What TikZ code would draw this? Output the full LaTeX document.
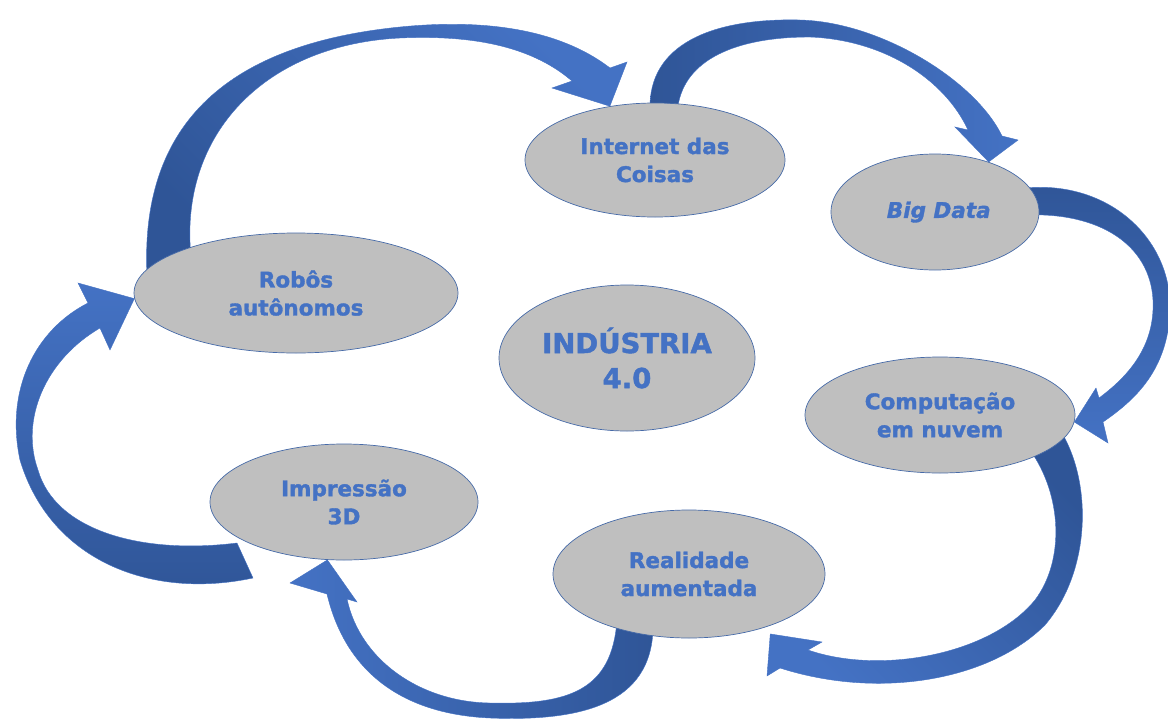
\documentclass[tikz,border=0pt]{standalone}
\usepackage{fontspec}
\setmainfont{DejaVu Sans}[BoldFeatures={FakeBold=1.6},BoldItalicFeatures={FakeBold=1.6}]
\usepackage{tikz}
\usetikzlibrary{calc}
\usetikzlibrary{shapes.geometric}
\usetikzlibrary{backgrounds}

\definecolor{txtblue}{RGB}{68,114,196}
\definecolor{arrdark}{RGB}{47,85,151}
\definecolor{arrlight}{RGB}{68,114,196}
\definecolor{ellgray}{RGB}{191,191,191}
\definecolor{ellline}{RGB}{70,106,168}

\begin{document}
\begin{tikzpicture} [x=1pt,y=-1pt,
     el/.style={ellipse, fill=ellgray, draw=ellline, line width=0.7pt, inner sep=0pt,
                align=center, text=txtblue, font=\bfseries\fontsize{21.5}{28}\selectfont},
     arr/.style={top color=arrlight, bottom color=arrdark, draw=arrlight, line width=0.4pt}
   ]
\useasboundingbox (0,0) rectangle (1168,718);

\node (iot)   [el, minimum width=260, minimum height=114] at (655,160) {Internet das\\Coisas};
\node (big)   [el, minimum width=208, minimum height=116] at (935,212) {\itshape ~Big Data};
\node (robo)  [el, minimum width=324, minimum height=120] at (296,293) {Robôs\\autônomos};
\node (ind)   [el, minimum width=256, minimum height=146, font=\bfseries\fontsize{27.5}{35}\selectfont]
              at (627,358) {INDÚSTRIA\\4.0};
\node (cloud) [el, minimum width=270, minimum height=116] at (940,415) {Computação\\em nuvem};
\node (print) [el, minimum width=268, minimum height=116] at (344,502) {Impressão\\3D};
\node (ar)    [el, minimum width=272, minimum height=128] at (689,574) {Realidade\\aumentada};

\begin{scope}[on background layer]
\shadedraw[arr, shading angle=-45]
  (147,275) .. controls (140,130) and (220,45) .. (400,27)
  .. controls (520,15) and (580,45) .. (610,68) -- (627,62) -- (iot.130)
  -- (552,88) -- (572,81) .. controls (530,45) and (470,35) .. (400,38)
  .. controls (260,45) and (175,140) .. (192,265) -- cycle;
\shadedraw[arr, shading angle=-90]
  (650,104) .. controls (652,40) and (720,18) .. (800,20)
  .. controls (880,22) and (975,80) .. (1002,136) -- (1018,140) -- (big.43)
  -- (955,127) -- (968,130) .. controls (945,80) and (885,40) .. (810,37)
  .. controls (735,37) and (685,60) .. (678,106) -- cycle;
\shadedraw[arr, shading angle=180]
  (1025,188) .. controls (1110,180) and (1172,240) .. (1170,310)
  .. controls (1168,370) and (1135,400) .. (1103,422) -- (1108,443) -- (cloud.-3)
  -- (1096,388) -- (1099,398) .. controls (1130,375) and (1155,345) .. (1153,300)
  .. controls (1150,245) and (1100,212) .. (1025,215) -- cycle;
\shadedraw[arr, shading angle=135]
  (1060,430) .. controls (1092,480) and (1092,570) .. (1045,625)
  .. controls (990,680) and (880,700) .. (780,668) -- (767,676) -- ($(ar.-36)+(7,6)$)
  -- (822,642) -- (808,650) .. controls (880,675) and (990,655) .. (1035,600)
  .. controls (1065,560) and (1062,495) .. (1030,450) -- cycle;
\shadedraw[arr, shading angle=90]
  (653,620) .. controls (656,700) and (590,722) .. (490,718)
  .. controls (400,714) and (345,670) .. (327,594) -- (290,583) -- (print.254)
  -- (357,602) -- (347,599) .. controls (360,660) and (420,702) .. (490,703)
  .. controls (570,705) and (612,690) .. (617,620) -- cycle;
\shadedraw[arr]
  (253,578) .. controls (150,600) and (50,560) .. (20,460)
  .. controls (5,390) and (35,330) .. (88,303) -- (78,283) -- (robo.182)
  -- (110,350) -- (100,328) .. controls (45,360) and (20,420) .. (38,470)
  .. controls (55,530) and (140,555) .. (237,543) -- cycle;
\end{scope}
\end{tikzpicture}
\end{document}
